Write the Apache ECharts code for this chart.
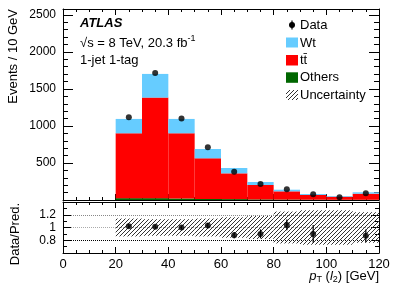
<!DOCTYPE html>
<html><head><meta charset="utf-8">
<script src="https://cdn.jsdelivr.net/npm/echarts@6/dist/echarts.min.js"></script>
<style>html,body{margin:0;padding:0;background:#fff}#c{width:399px;height:286px}</style>
</head><body><div id="c"></div>
<script>
// ---- data ----
const binLow   = [20, 30, 40, 50, 60, 70, 80, 90, 100, 110];
const binWidth = 10;
const others   = [25, 25, 20, 15, 12, 8, 6, 4, 3, 3];
const ttbar    = [876, 1358, 881, 548, 348, 195, 111, 64, 42, 82];
const wt       = [194, 320, 194, 126, 72, 40, 22, 13, 9, 19];
const dataVals = [1117, 1716, 1100, 712, 380, 216, 144, 77, 38, 90];
const ratio    = [1.02, 1.01, 1.00, 1.03, 0.88, 0.90, 1.04, 0.90, null, 0.87];
const ratioErr = [0.03, 0.025, 0.03, 0.04, 0.05, 0.07, 0.085, 0.14, 0, 0.10];
const uncert   = [0.14, 0.13, 0.13, 0.14, 0.16, 0.18, 0.25, 0.27, 0.27, 0.24];
const yMainTicks  = [500, 1000, 1500, 2000, 2500];
const yRatioTicks = [0.8, 1, 1.2];

const FONT = 'Liberation Sans, Arial, Helvetica, sans-serif';
const C_WT = '#66CCFF', C_TT = '#FF0000', C_OT = '#006600';

function hatchCanvas(){
  const c = document.createElement('canvas'); c.width = 8; c.height = 8;
  const g = c.getContext('2d'); g.fillStyle = '#333';
  for (let x = 0; x < 8; x++) for (let y = 0; y < 8; y++) if ((x + y) % 4 === 3) g.fillRect(x, y, 1, 1);
  return c;
}
const hatch = { image: hatchCanvas(), repeat: 'repeat' };

// stacked rows [lo, hi, base, top]
function stackRows(base, vals){ return binLow.map((lo,i)=>[lo, lo+binWidth, base[i], base[i]+vals[i]]); }
const zeros = binLow.map(()=>0);
const baseTT = others.slice();
const baseWT = others.map((v,i)=>v+ttbar[i]);

function rectItem(fill){
  return function(params, api){
    const p0 = api.coord([api.value(0), api.value(3)]);
    const p1 = api.coord([api.value(1), api.value(2)]);
    return { type:'rect', shape:{x:p0[0], y:p0[1], width:p1[0]-p0[0], height:p1[1]-p0[1]}, style:{fill:fill} };
  };
}

const chart = echarts.init(document.getElementById('c'), null, {renderer:'canvas'});

function xAx(grid, pos, labels){
  return { type:'value', gridIndex:grid, position:pos, min:0, max:120, interval:20,
    axisLine:{show:true, onZero:false, lineStyle:{color:'#000', width:1}},
    axisTick:{show:true, inside:true, length:6, lineStyle:{color:'#000'}},
    minorTick:{show:true, splitNumber:4, length:3, lineStyle:{color:'#000'}},
    splitLine:{show:false},
    axisLabel:{show:labels, color:'#000', fontFamily:FONT, fontSize:13, margin:5} };
}
function yMain(pos, labels){
  return { type:'value', gridIndex:0, position:pos, min:0, max:2580, interval:500,
    axisLine:{show:true, onZero:false, lineStyle:{color:'#000', width:1}},
    axisTick:{show:true, inside:true, length:10, lineStyle:{color:'#000'}},
    minorTick:{show:true, splitNumber:5, length:5, lineStyle:{color:'#000'}},
    splitLine:{show:false},
    axisLabel:{show:labels, color:'#000', fontFamily:FONT, fontSize:12, margin:7,
      formatter:v=> yMainTicks.indexOf(Math.round(v))>=0 ? String(Math.round(v)) : ''} };
}
function yRatio(pos, labels){
  return { type:'value', gridIndex:1, position:pos, min:0.6, max:1.4, interval:0.2,
    axisLine:{show:true, onZero:false, lineStyle:{color:'#000', width:1}},
    axisTick:{show:true, inside:true, length:8, lineStyle:{color:'#000'}},
    minorTick:{show:true, splitNumber:2, length:4, lineStyle:{color:'#000'}},
    splitLine:{show:labels, lineStyle:{type:'dotted', width:1, color:['#000','#000','#aaa','#888','#000']}},
    axisLabel:{show:labels, color:'#000', fontFamily:FONT, fontSize:12, margin:7,
      formatter:v=>{ const r = Math.round(v*10)/10; return yRatioTicks.indexOf(r)>=0 ? String(r) : ''; }} };
}

const T = (txt, x, y, extra) => Object.assign({type:'text', x:x, y:y, style:Object.assign({text:txt, fontFamily:FONT, fontSize:13, fill:'#000', verticalAlign:'middle', align:'left'}, extra||{})});

const legX = 286, legTextX = 300;
const option = {
  animation:false,
  backgroundColor:'#fff',
  grid:[ {left:63, right:20, top:9, height:191}, {left:63, right:20, top:202, height:51} ],
  xAxis:[ xAx(0,'bottom',false), xAx(0,'top',false), xAx(1,'bottom',true), xAx(1,'top',false) ],
  yAxis:[ yMain('left',true), yMain('right',false), yRatio('left',true), yRatio('right',false) ],
  series:[
    {type:'custom', xAxisIndex:0, yAxisIndex:0, clip:true, renderItem:rectItem(C_OT), data:stackRows(zeros, others), z:2},
    {type:'custom', xAxisIndex:0, yAxisIndex:0, clip:true, renderItem:rectItem(C_TT), data:stackRows(baseTT, ttbar), z:2},
    {type:'custom', xAxisIndex:0, yAxisIndex:0, clip:true, renderItem:rectItem(C_WT), data:stackRows(baseWT, wt), z:2},
    {type:'scatter', xAxisIndex:0, yAxisIndex:0, symbol:'circle', symbolSize:6, itemStyle:{color:'#000'},
      data:binLow.map((lo,i)=>[lo+binWidth/2, dataVals[i]]), z:5},
    {type:'custom', xAxisIndex:2, yAxisIndex:2, clip:true,
      renderItem:function(params, api){
        const p0 = api.coord([api.value(0), api.value(3)]);
        const p1 = api.coord([api.value(1), api.value(2)]);
        return { type:'rect', shape:{x:p0[0], y:p0[1], width:p1[0]-p0[0], height:p1[1]-p0[1]}, style:{fill:hatch} };
      },
      data:binLow.map((lo,i)=>[lo, lo+binWidth, 1-uncert[i], 1+uncert[i]]), z:3},
    {type:'custom', xAxisIndex:2, yAxisIndex:2, clip:true,
      renderItem:function(params, api){
        const a = api.coord([api.value(0), api.value(1)-api.value(2)]);
        const b = api.coord([api.value(0), api.value(1)+api.value(2)]);
        return { type:'line', shape:{x1:a[0], y1:a[1], x2:b[0], y2:b[1]}, style:{stroke:'#000', lineWidth:1.2} };
      },
      data:binLow.map((lo,i)=>[lo+binWidth/2, ratio[i], ratioErr[i]]).filter(d=>d[1]!==null), z:4},
    {type:'scatter', xAxisIndex:2, yAxisIndex:2, symbol:'circle', symbolSize:6, itemStyle:{color:'#000'},
      data:binLow.map((lo,i)=>[lo+binWidth/2, ratio[i]]).filter(d=>d[1]!==null), z:5}
  ],
  graphic:[
    T('ATLAS', 80, 23, {fontWeight:'bold', fontStyle:'italic'}),
    {type:'text', x:80, y:43, style:{rich:{n:{fontFamily:FONT, fontSize:13, fill:'#000'}, s:{fontFamily:FONT, fontSize:9, fill:'#000', padding:[0,0,8,0]}},
      text:'{n|√s = 8 TeV, 20.3 fb}{s|-1}', verticalAlign:'middle', align:'left'}},
    T('1-jet 1-tag', 80, 60),
    // legend
    {type:'line', shape:{x1:legX+6, y1:20.5, x2:legX+6, y2:29.5}, style:{stroke:'#000', lineWidth:1.2}},
    {type:'circle', shape:{cx:legX+6, cy:25, r:3}, style:{fill:'#000'}},
    T('Data', legTextX, 25),
    {type:'rect', shape:{x:legX, y:37.5, width:12, height:10}, style:{fill:C_WT}},
    T('Wt', legTextX, 43),
    {type:'rect', shape:{x:legX, y:55, width:12, height:10.5}, style:{fill:C_TT}},
    T('tt\u0304', legTextX, 60),
    {type:'rect', shape:{x:legX, y:72.3, width:12, height:10.5}, style:{fill:C_OT}},
    T('Others', legTextX, 77.5),
    {type:'rect', shape:{x:legX, y:90, width:12, height:10}, style:{fill:hatch}},
    T('Uncertainty', legTextX, 95),
    // axis titles
    {type:'text', x:13, y:9, rotation:Math.PI/2, style:{text:'Events / 10 GeV', fontFamily:FONT, fontSize:13, fill:'#000', align:'right', verticalAlign:'middle'}},
    {type:'text', x:15, y:203, rotation:Math.PI/2, style:{text:'Data/Pred.', fontFamily:FONT, fontSize:13, fill:'#000', align:'right', verticalAlign:'middle'}},
    {type:'text', x:379, y:276, style:{rich:{i:{fontFamily:FONT, fontSize:13, fontStyle:'italic', fill:'#000'}, n:{fontFamily:FONT, fontSize:13, fill:'#000'}, s:{fontFamily:FONT, fontSize:9, fill:'#000', padding:[8,0,0,0]}},
      text:'{i|p}{s|T}{n| (}{i|l}{s|2}{n|) [GeV]}', align:'right', verticalAlign:'middle'}}
  ]
};
chart.setOption(option);
</script></body></html>
